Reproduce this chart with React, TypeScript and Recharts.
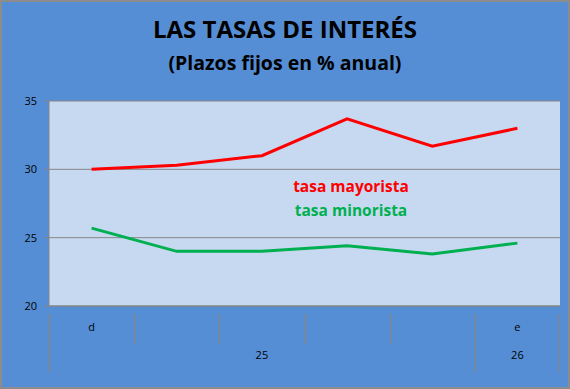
import { LineChart, Line, XAxis, YAxis, CartesianGrid } from "recharts";

// categories: first tier (month letter) and second tier (year)
const meses = ["d", "", "", "", "", "e"];
const anios = ["25", "25", "25", "25", "25", "26"];
const mayorista = [30.0, 30.3, 31.0, 33.7, 31.7, 33.0];
const minorista = [25.7, 24.0, 24.0, 24.4, 23.8, 24.6];
const yTicks = [20, 25, 30, 35];

const data = meses.map((m, i) => ({
  idx: i,
  mes: m,
  anio: anios[i],
  mayorista: mayorista[i],
  minorista: minorista[i],
}));

const AXIS_GRAY = "#868686";

// two-tier category axis like Excel's
const TwoTierTick = (props: any) => {
  const { x, y, payload, index } = props;
  const half = payload.offset || 0;
  const left = Math.round(x - half) + 0.5;
  const right = Math.round(x + half) - 0.5;
  const n = data.length;
  const i = index;
  const yr = anios[i];
  const firstOfYear = i === 0 || anios[i - 1] !== yr;
  // year label centered on its group
  let start = i;
  while (start > 0 && anios[start - 1] === yr) start--;
  let end = i;
  while (end < n - 1 && anios[end + 1] === yr) end++;
  const showYear = i === Math.floor((start + end) / 2);
  const yearX = x + ((start + end) / 2 - i) * half * 2;
  return (
    <g>
      <line x1={left} y1={y} x2={left} y2={y + (firstOfYear ? 58 : 30)} stroke={AXIS_GRAY} strokeWidth={1.3} />
      {i === n - 1 && (
        <line x1={right} y1={y} x2={right} y2={y + 58} stroke={AXIS_GRAY} strokeWidth={1.3} />
      )}
      <text x={x} y={y + 17} textAnchor="middle" fontSize={11} fill="#000" fontFamily="'Open Sans', sans-serif">
        {meses[i]}
      </text>
      {showYear && (
        <text x={yearX} y={y + 45} textAnchor="middle" fontSize={11} fill="#000" fontFamily="'Open Sans', sans-serif">
          {yr}
        </text>
      )}
    </g>
  );
};

export default function App() {
  return (
    <div
      style={{
        position: "absolute",
        left: 0,
        top: 0,
        width: 570,
        height: 389,
        boxSizing: "border-box",
        border: "2px solid #8c8c8c",
        background: "#558ED5",
        fontFamily: "'Open Sans', sans-serif",
      }}
    >
      <div style={{ position: "absolute", left: -2, top: -2, width: 570, height: 389 }}>
        <LineChart
          width={570}
          height={389}
          data={data}
          margin={{ top: 101, right: 10, left: 0, bottom: 0 }}
        >
          <CartesianGrid vertical={false} stroke={AXIS_GRAY} fill="#C6D9F1" fillOpacity={1} />
          <XAxis
            dataKey="idx"
            type="category"
            scale="band"
            height={83}
            interval={0}
            axisLine={{ stroke: AXIS_GRAY }}
            tickLine={false}
            tick={<TwoTierTick />}
          />
          <YAxis
            domain={[20, 35]}
            ticks={yTicks}
            width={49}
            tickSize={5}
            tickMargin={7}
            axisLine={{ stroke: AXIS_GRAY }}
            tickLine={{ stroke: AXIS_GRAY }}
            tick={{ fill: "#000", fontSize: 11, fontFamily: "'Open Sans', sans-serif" }}
          />
          <Line
            type="linear"
            dataKey="mayorista"
            stroke="#FF0000"
            strokeWidth={3}
            dot={false}
            isAnimationActive={false}
          />
          <Line
            type="linear"
            dataKey="minorista"
            stroke="#00B050"
            strokeWidth={3}
            dot={false}
            isAnimationActive={false}
          />
        </LineChart>
      </div>
      <div
        style={{
          position: "absolute",
          left: -2,
          top: 12,
          width: 570,
          textAlign: "center",
          fontWeight: 700,
          fontSize: 24,
          lineHeight: "30px",
          color: "#000",
        }}
      >
        LAS TASAS DE INTERÉS
      </div>
      <div
        style={{
          position: "absolute",
          left: -2,
          top: 46,
          width: 570,
          textAlign: "center",
          fontWeight: 700,
          fontSize: 19.5,
          lineHeight: "30px",
          color: "#000",
        }}
      >
        (Plazos fijos en % anual)
      </div>
      <div
        style={{
          position: "absolute",
          left: 249,
          top: 173,
          width: 200,
          textAlign: "center",
          fontWeight: 700,
          fontSize: 15.5,
          lineHeight: "22px",
          color: "#FF0000",
        }}
      >
        tasa mayorista
      </div>
      <div
        style={{
          position: "absolute",
          left: 249,
          top: 197,
          width: 200,
          textAlign: "center",
          fontWeight: 700,
          fontSize: 15.5,
          lineHeight: "22px",
          color: "#00B050",
        }}
      >
        tasa minorista
      </div>
    </div>
  );
}
